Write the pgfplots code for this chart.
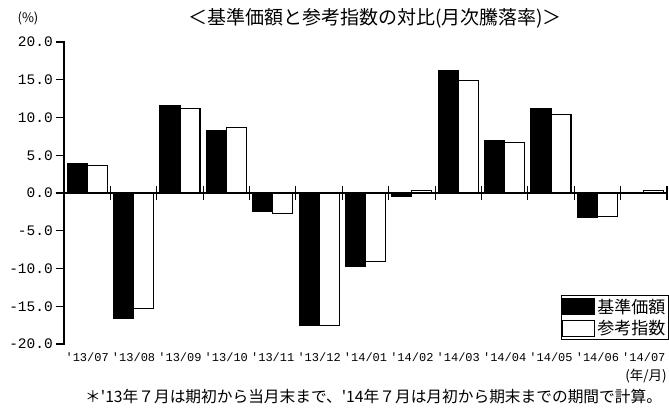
\documentclass[border=0pt]{standalone}
\usepackage{fontspec}
\setmainfont{Noto Sans CJK JP}[Ligatures=TeXOff]
\newfontfamily\tickfont{Liberation Mono}[Ligatures=TeXOff]
\usepackage{pgfplots}
\pgfplotsset{compat=1.18}
\begin{document}
\begin{tikzpicture}
\useasboundingbox (-64bp,-71bp) rectangle (605bp,344bp);
\begin{axis}[
  at={(0,0)}, anchor=south west,
  scale only axis, width=603bp, height=302bp,
  xmin=-0.5, xmax=12.5, ymin=-20, ymax=20,
  clip=false,
  axis y line=left, axis x line=bottom,
  x axis line style={draw=none},
  y axis line style={line width=1.3bp, -},
  xtick={0,...,12},
  xticklabels={'13/07,'13/08,'13/09,'13/10,'13/11,'13/12,'14/01,'14/02,'14/03,'14/04,'14/05,'14/06,'14/07},
  x tick style={draw=none},
  xticklabel style={font=\tickfont\fontsize{12bp}{14bp}\selectfont, inner sep=0pt, yshift=-1bp},
  ytick={-20,-15,...,20},
  yticklabels={-20.0,-15.0,-10.0,-5.0,0.0,5.0,10.0,15.0,20.0},
  yticklabel style={font=\tickfont\fontsize{14.5bp}{16bp}\selectfont, inner sep=0pt, xshift=-3bp},
  y tick style={draw=none},
  tick align=outside, major tick length=8bp,
  ybar=0pt, bar width=20bp,
  legend style={at={(1,0)}, anchor=south east, xshift=2bp, yshift=4bp,
    draw=black, line width=1.2bp, inner sep=1bp, row sep=2bp,
    font=\fontsize{17bp}{19bp}\selectfont},
  legend cell align=left,
  legend image code/.code={\draw[#1, line width=1.2bp] (0bp,-8bp) rectangle (32bp,8bp);},
]
\addplot[fill=black, draw=black, line width=1.2bp] coordinates {
(0,3.9) (1,-16.6) (2,11.6) (3,8.2) (4,-2.4) (5,-17.5) (6,-9.7) (7,-0.5) (8,16.2) (9,7.0) (10,11.2) (11,-3.2) (12,0.1)};
\addplot[fill=white, draw=black, line width=1.2bp] coordinates {
(0,3.6) (1,-15.3) (2,11.2) (3,8.7) (4,-2.7) (5,-17.5) (6,-9.1) (7,0.3) (8,14.9) (9,6.7) (10,10.4) (11,-3.1) (12,0.3)};
\legend{基準価額,参考指数}
\draw[line width=1.3bp] (axis cs:-0.5,0) -- (axis cs:12.5,0);
\pgfplotsinvokeforeach{0.5,1.5,...,12.5}{
  \draw[line width=1.1bp] ([yshift=-7bp]axis cs:#1,0) -- ([yshift=7bp]axis cs:#1,0);
}
\pgfplotsinvokeforeach{-20,-15,...,20}{
  \draw[line width=1.3bp] ([xshift=-8bp]axis cs:-0.5,#1) -- ([xshift=0.6bp]axis cs:-0.5,#1);
}
\end{axis}
\node[font=\fontsize{13bp}{15bp}\selectfont] at (-36bp,326bp) {(\%)};
\node[font=\fontsize{19bp}{22bp}\selectfont] at (311bp,326bp) {＜基準価額と参考指数の対比(月次騰落率)＞};
\node[font=\fontsize{13.5bp}{15bp}\selectfont, anchor=east, inner sep=0pt] at (603bp,-32bp) {(年/月)};
\node[font=\fontsize{15.7bp}{18bp}\selectfont, anchor=west, inner sep=0pt] at (21bp,-53bp) {＊'13年７月は期初から当月末まで、'14年７月は月初から期末までの期間で計算。};
\end{tikzpicture}
\end{document}
